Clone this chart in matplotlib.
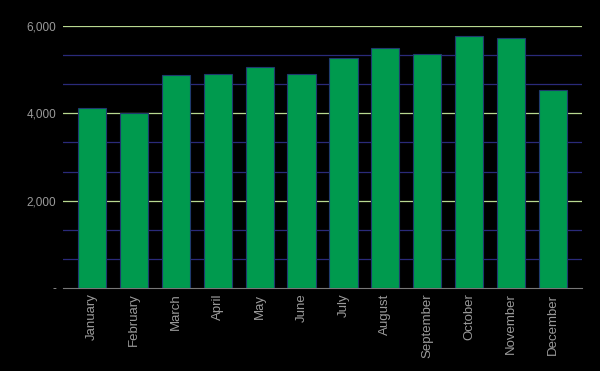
import numpy as np
import matplotlib.pyplot as plt
from matplotlib.ticker import FuncFormatter, MultipleLocator

months = ["January", "February", "March", "April", "May", "June", "July",
          "August", "September", "October", "November", "December"]
values = [4120, 4005, 4875, 4900, 5060, 4900, 5265, 5490, 5355, 5770, 5720, 4530]
major_lines = [2000, 4000, 6000]
minor_lines = [667, 1333, 2667, 3333, 4667, 5333]

plt.rcParams['font.family'] = ['Liberation Sans', 'DejaVu Sans']

fig = plt.figure(figsize=(6, 3.71), dpi=100, facecolor='black')
ax = fig.add_axes([0.105, 0.2237, 0.865, 0.7063], facecolor='black')

x = np.arange(len(months))
ax.bar(x, values, width=0.67, color='#009a4e', edgecolor='#1f3a6e', linewidth=0.8, zorder=3)

ax.set_xlim(-0.69, len(months) - 0.31)
ax.set_ylim(0, 6000)

# gridlines: major every 2000 (pale green), minor in thirds (navy)
for v in minor_lines:
    ax.axhline(v, color='#2a2a7a', linewidth=0.9, zorder=1)
for v in major_lines:
    ax.axhline(v, color='#b8d890', linewidth=0.9, zorder=1)

ax.set_yticks([0] + major_lines)
ax.yaxis.set_major_formatter(FuncFormatter(lambda v, p: f"{int(v):,}" if v > 0 else "-"))

for s in ['top', 'right', 'left']:
    ax.spines[s].set_visible(False)
ax.spines['bottom'].set_color('#777777')
ax.spines['bottom'].set_linewidth(0.8)

ax.set_xticks(x)
ax.set_xticklabels(months, rotation=90, va='top', ha='center')
ax.tick_params(axis='x', length=0, pad=4, labelsize=9.5, labelcolor='#9a9a9a')
ax.tick_params(axis='y', length=0, pad=5, labelsize=8.5, labelcolor='#9a9a9a')

fig.savefig('out.png', dpi=100, facecolor='black')
